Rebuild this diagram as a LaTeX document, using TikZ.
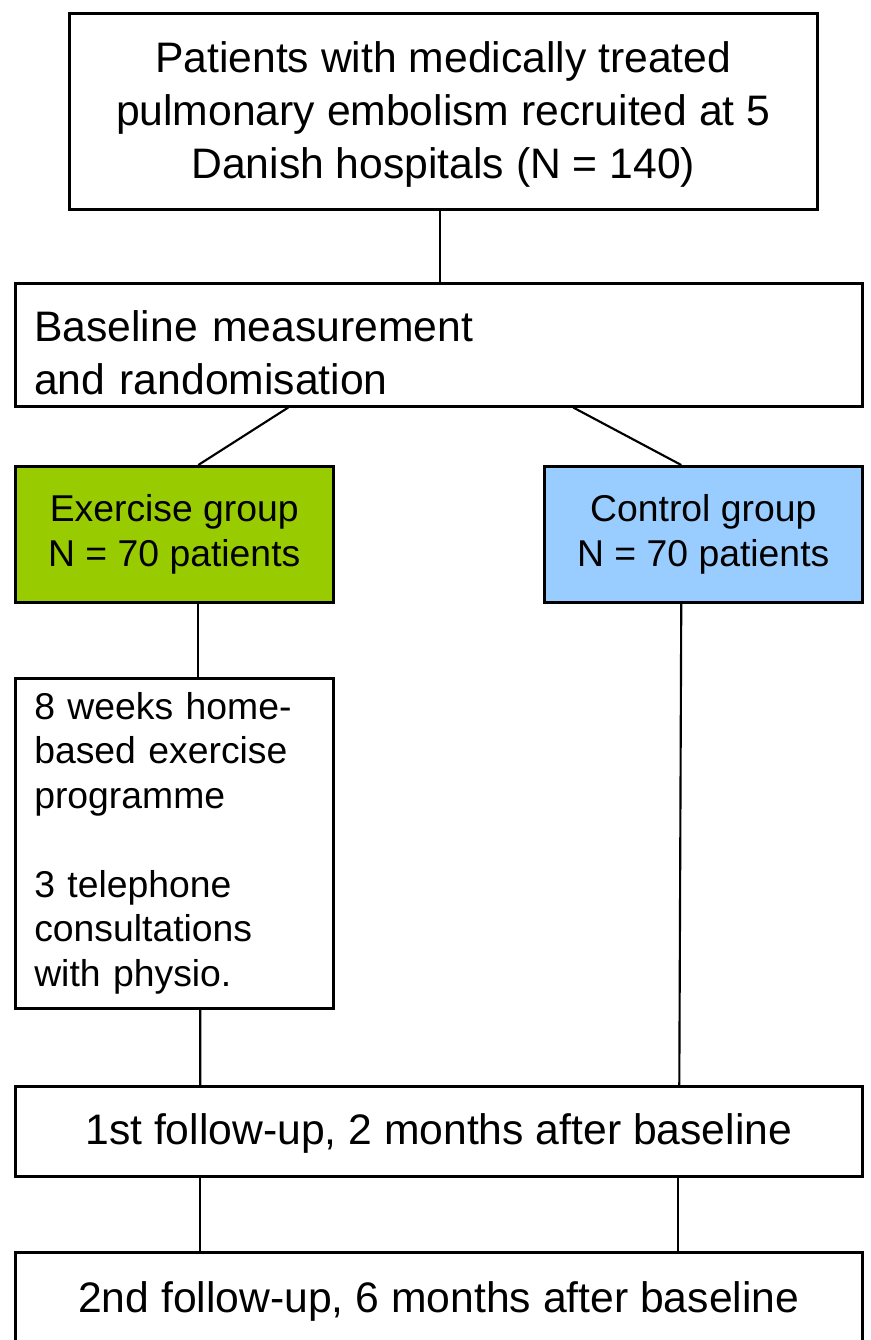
\documentclass[tikz,border=0pt]{standalone}
\usepackage{fontspec}
\setmainfont{Liberation Sans}
\definecolor{exgreen}{HTML}{99CC00}
\definecolor{ctblue}{HTML}{99CCFF}
\begin{document}
\begin{tikzpicture}[x=0.75pt,y=-0.75pt,
  box/.style={draw, line width=1.9pt, rectangle, anchor=north west, inner sep=0pt},
  big/.style={font=\fontsize{32}{39.75}\selectfont},
  small/.style={font=\fontsize{28}{33.4}\selectfont},
  conn/.style={line width=1.6pt}]
\useasboundingbox (0,0) rectangle (871,1340);
\clip (0,0) rectangle (871,1340);
\node[box, big, align=center, minimum width=561pt, minimum height=147pt] (top) at (68,12)
  {\rule{0pt}{28pt}Patients with medically treated\\pulmonary embolism recruited at 5\\Danish hospitals (N = 140)};
\node[box, big, align=left, text width=606.75pt, inner xsep=14.25pt, minimum height=92.25pt] (base) at (14,282)
  {\rule{0pt}{35pt}Baseline measurement\\and randomisation};
\node[box, small, fill=exgreen, align=center, minimum width=238.5pt, minimum height=102pt] (ex) at (14,465)
  {Exercise group\\N = 70 patients};
\node[box, small, fill=ctblue, align=center, minimum width=238.5pt, minimum height=102pt] (ctl) at (543,465)
  {Control group\\N = 70 patients};
\node[box, small, align=left, text width=210pt, inner xsep=14.25pt, minimum height=247.5pt] (prog) at (14,677)
  {8 weeks home-\\based exercise\\programme\\[33.4pt]3 telephone\\consultations\\with physio.};
\node[box, big, align=center, minimum width=635.25pt, minimum height=67.5pt] (fu1) at (14,1085)
  {\rule{0pt}{27pt}1st follow-up, 2 months after baseline};
\node[box, big, align=center, minimum width=635.25pt, minimum height=70.5pt] (fu2) at (14,1251)
  {\rule{0pt}{26pt}2nd follow-up, 6 months after baseline};
\draw[conn] ([xshift=-2.25pt]top.south) -- ([xshift=-2.25pt]top.south |- base.north);
\draw[conn] ([xshift=-112.9pt]base.south) -- ([xshift=18pt]ex.north);
\draw[conn] ([xshift=100.9pt]base.south) -- ([xshift=-16.5pt]ctl.north);
\draw[conn] ([xshift=18pt]ex.south) -- ([xshift=18pt]prog.north);
\draw[conn] ([xshift=-16.5pt]ctl.south) -- ([xshift=180.4pt]fu1.north);
\draw[conn] ([xshift=19.5pt]prog.south) -- ([xshift=-178.9pt]fu1.north);
\draw[conn] ([xshift=-178.9pt]fu1.south) -- ([xshift=-178.9pt]fu2.north);
\draw[conn] ([xshift=179.6pt]fu1.south) -- ([xshift=179.6pt]fu2.north);
\end{tikzpicture}
\end{document}
